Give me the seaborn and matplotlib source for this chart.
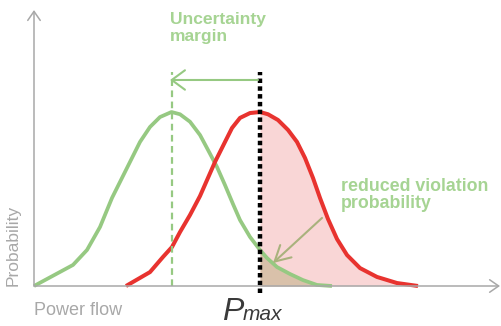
import matplotlib
matplotlib.use("Agg")
import matplotlib.pyplot as plt
import seaborn as sns
import numpy as np

# curve points (power flow, probability density)
green_x = [0, 3.9, 5.3, 6.6, 7.8, 8.6, 9.6, 10.6, 11.6, 12.6, 13.75, 14.6, 15.6,
           16.6, 17.4, 18.3, 19.1, 19.9, 20.6, 21.6, 22.6, 23.3, 24.3,
           25.6, 26.9, 28.3, 29.8]
green_y = [0, 0.121, 0.207, 0.339, 0.506, 0.598, 0.713, 0.828, 0.914, 0.971, 1.0,
           0.987, 0.944, 0.868, 0.782, 0.684, 0.580, 0.471, 0.379, 0.282,
           0.207, 0.161, 0.109, 0.069, 0.034, 0.006, 0.0]
red_x = [9.2, 11.6, 12.9, 13.8, 14.6, 15.6, 16.6, 18.1, 19.1, 19.8, 20.6, 21.6,
         22.6, 23.4, 24.4, 25.4, 26.3, 27.1, 27.9, 28.6, 29.4, 30.3, 31.3, 32.6,
         34.3, 36.3, 38.4]
red_y = [0, 0.080, 0.167, 0.224, 0.310, 0.408, 0.517, 0.713, 0.828, 0.908, 0.966,
         0.994, 1.0, 0.987, 0.954, 0.897, 0.828, 0.736, 0.621, 0.506, 0.385,
         0.270, 0.178, 0.103, 0.052, 0.017, 0.0]
p_max = 22.6
green_mean = 13.75

GREEN = "#96c982"
RED = "#e8332f"
TXT_GREEN = "#a6d493"
GREY = "#a8a8a8"

sns.set_style("white")
plt.rcParams['font.family'] = ['Liberation Sans', 'DejaVu Sans']

fig = plt.figure(figsize=(5.01, 3.26), dpi=100)
ax = fig.add_axes([0, 0, 1, 1])
ax.set_xlim(-3.4, 46.7)
ax.set_ylim(-0.2299, 1.6437)
ax.axis("off")

gx, gy = np.array(green_x), np.array(green_y)
rx, ry = np.array(red_x), np.array(red_y)

# shaded tails beyond P_max
ax.fill_between(rx, ry, where=rx >= p_max, color="#f9d6d6", lw=0)
ax.fill_between(gx, gy, where=gx >= p_max, color="#d9c1aa", lw=0)

# axes with arrow heads
ax.annotate("", xy=(0, 1.586), xytext=(0, 0),
            arrowprops=dict(arrowstyle="->,head_length=0.65,head_width=0.45",
                            color=GREY, lw=1.1, shrinkA=0, shrinkB=0))
ax.annotate("", xy=(46.6, 0), xytext=(0, 0),
            arrowprops=dict(arrowstyle="->,head_length=0.65,head_width=0.45",
                            color=GREY, lw=1.1, shrinkA=0, shrinkB=0))

sns.lineplot(x=gx, y=gy, ax=ax, color=GREEN, linewidth=2.7, sort=False,
             solid_capstyle="butt", solid_joinstyle="round")
sns.lineplot(x=rx, y=ry, ax=ax, color=RED, linewidth=2.9, sort=False,
             solid_capstyle="butt", solid_joinstyle="round")

# mean of the shifted distribution and the limit
ax.plot([green_mean, green_mean], [0, 1.23], color=GREEN, lw=1.6,
        linestyle=(0, (3, 2)))
ax.plot([p_max, p_max], [-0.04, 1.23], color="black", lw=3.2,
        linestyle=(0, (1, 0.75)), dash_capstyle="butt")

ax.annotate("", xy=(13.6, 1.184), xytext=(22.4, 1.184),
            arrowprops=dict(arrowstyle="->,head_length=0.95,head_width=0.7",
                            color=GREEN, lw=1.5, shrinkA=0, shrinkB=0))
ax.annotate("", xy=(23.9, 0.132), xytext=(28.8, 0.391),
            arrowprops=dict(arrowstyle="->,head_length=1.1,head_width=0.6",
                            color="#a9b27d", lw=1.5, shrinkA=0, shrinkB=0))

ax.text(13.6, 1.575, "Uncertainty\nmargin", color=TXT_GREEN, fontsize=12.6,
        fontweight="bold", ha="left", va="top", linespacing=1.15)
ax.text(30.7, 0.62, "reduced violation\nprobability", color=TXT_GREEN,
        fontsize=12.8, fontweight="bold", ha="left", va="top", linespacing=1.0)

ax.text(-2.1, 0, "Probability", color=GREY, fontsize=12.5, rotation=90,
        ha="center", va="bottom")
ax.text(0, -0.167, "Power flow", color=GREY, fontsize=13, ha="left",
        va="baseline")
ax.text(18.8, -0.197, "P", color="#3a3a3a", fontsize=23, style="italic",
        ha="left", va="baseline")
ax.text(20.9, -0.197, "max", color="#3a3a3a", fontsize=15, style="italic",
        ha="left", va="baseline")

fig.savefig("out.png", dpi=100)
